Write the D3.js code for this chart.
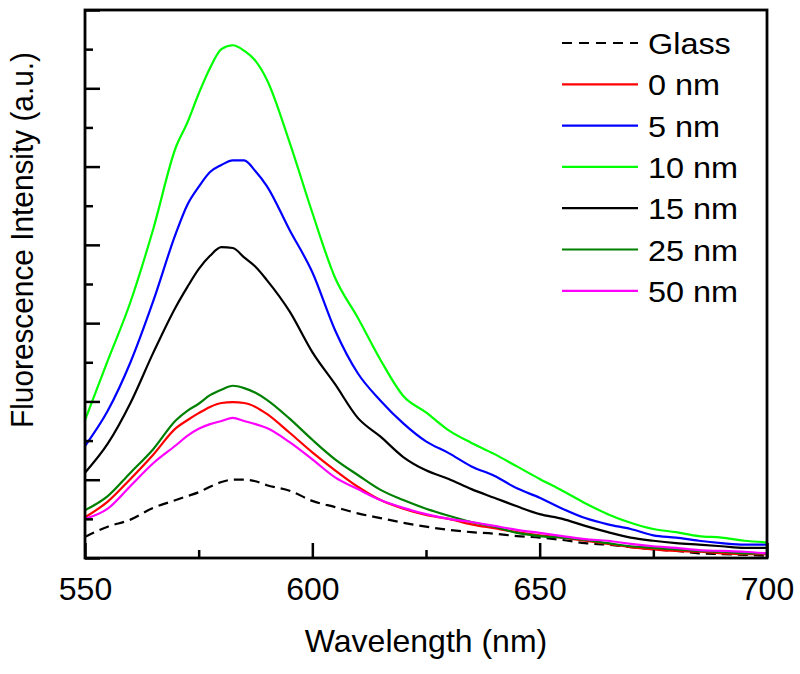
<!DOCTYPE html>
<html>
<head>
<meta charset="utf-8">
<script src="https://cdn.jsdelivr.net/npm/d3@7/dist/d3.min.js"></script>
<style>
  html, body { margin: 0; padding: 0; background: #fff; }
  svg { display: block; }
  text { font-family: "Liberation Sans", Arial, Helvetica, sans-serif; fill: #000; }
</style>
</head>
<body>
<svg id="chart" width="800" height="674"></svg>
<script>
// ---- data ----
const wavelengths = [550, 555, 560, 565, 570, 572.5, 575, 577.5, 580, 582.5, 585, 587.5, 590, 595, 600, 605, 610, 615, 620, 625, 630, 635, 640, 645, 650, 655, 660, 665, 670, 675, 680, 685, 690, 695, 700];

const glass = [0.27, 0.40, 0.49, 0.64, 0.74, 0.79, 0.84, 0.91, 0.97, 1.00, 1.00, 0.98, 0.93, 0.86, 0.73, 0.65, 0.57, 0.51, 0.45, 0.40, 0.36, 0.33, 0.31, 0.28, 0.26, 0.23, 0.19, 0.17, 0.14, 0.11, 0.09, 0.06, 0.05, 0.04, 0.03];
const nm0   = [0.52, 0.72, 1.01, 1.32, 1.66, 1.76, 1.85, 1.93, 1.98, 1.99, 1.98, 1.93, 1.84, 1.60, 1.35, 1.12, 0.91, 0.74, 0.63, 0.55, 0.50, 0.43, 0.38, 0.33, 0.29, 0.26, 0.22, 0.18, 0.14, 0.11, 0.09, 0.08, 0.06, 0.05, 0.05];
const nm5   = [1.43, 1.88, 2.50, 3.28, 4.15, 4.51, 4.74, 4.93, 5.02, 5.08, 5.08, 4.94, 4.75, 4.19, 3.65, 2.91, 2.36, 2.01, 1.72, 1.49, 1.34, 1.17, 1.05, 0.89, 0.77, 0.63, 0.51, 0.43, 0.37, 0.29, 0.26, 0.22, 0.19, 0.17, 0.17];
const nm10  = [1.76, 2.52, 3.27, 4.20, 5.25, 5.56, 5.93, 6.26, 6.50, 6.55, 6.48, 6.35, 6.11, 5.31, 4.41, 3.58, 3.07, 2.53, 2.07, 1.86, 1.63, 1.47, 1.33, 1.17, 1.01, 0.86, 0.70, 0.56, 0.45, 0.37, 0.33, 0.28, 0.26, 0.22, 0.20];
const nm15  = [1.09, 1.46, 1.98, 2.62, 3.21, 3.46, 3.69, 3.86, 3.97, 3.96, 3.84, 3.72, 3.55, 3.15, 2.63, 2.22, 1.79, 1.55, 1.29, 1.12, 1.01, 0.88, 0.77, 0.66, 0.56, 0.50, 0.41, 0.33, 0.26, 0.22, 0.19, 0.17, 0.15, 0.13, 0.13];
const nm25  = [0.61, 0.79, 1.09, 1.39, 1.76, 1.88, 1.97, 2.08, 2.15, 2.20, 2.17, 2.11, 2.02, 1.78, 1.51, 1.26, 1.06, 0.87, 0.74, 0.63, 0.54, 0.46, 0.40, 0.32, 0.28, 0.26, 0.23, 0.19, 0.15, 0.13, 0.11, 0.09, 0.08, 0.06, 0.06];
const nm50  = [0.50, 0.63, 0.92, 1.21, 1.44, 1.56, 1.65, 1.71, 1.75, 1.79, 1.75, 1.71, 1.66, 1.48, 1.26, 1.03, 0.88, 0.74, 0.64, 0.56, 0.50, 0.46, 0.41, 0.36, 0.32, 0.28, 0.24, 0.22, 0.18, 0.15, 0.13, 0.10, 0.09, 0.08, 0.06];

const seriesNames  = ["Glass", "0 nm", "5 nm", "10 nm", "15 nm", "25 nm", "50 nm"];
const seriesValues = [glass, nm0, nm5, nm10, nm15, nm25, nm50];
const seriesColors = ["#000000", "#ff0000", "#0000ff", "#00ff00", "#000000", "#008000", "#ff00ff"];
const seriesDashed = [true, false, false, false, false, false, false];

const xMajorTicks = [550, 600, 650, 700];
const xMinorTicks = [575, 625, 675];
const yMajorTicks = [0, 1, 2, 3, 4, 5, 6, 7];
const yMinorTicks = [0.5, 1.5, 2.5, 3.5, 4.5, 5.5, 6.5];

const xTitle = "Wavelength (nm)";
const yTitle = "Fluorescence Intensity (a.u.)";

// ---- layout ----
const svg = d3.select("#chart");
const pLeft = 85, pRight = 767, pTop = 10, pBottom = 558;

const x = d3.scaleLinear().domain([550, 700]).range([pLeft, pRight]);
const y = d3.scaleLinear().domain([0, 7]).range([pBottom, pTop]);

// curves
const line = d3.line()
  .x((d, i) => x(wavelengths[i]))
  .y(d => y(d))
  .curve(d3.curveMonotoneX);

const gLines = svg.append("g");
seriesValues.forEach((vals, k) => {
  gLines.append("path")
    .datum(vals)
    .attr("d", line)
    .attr("fill", "none")
    .attr("stroke", seriesColors[k])
    .attr("stroke-width", 2.2)
    .attr("stroke-linejoin", "round")
    .attr("stroke-dasharray", seriesDashed[k] ? "10,6" : null);
});

// axes (ticks inward)
const xAxis = svg.append("g").attr("transform", `translate(0,${pBottom})`)
  .call(d3.axisBottom(x).tickValues(xMajorTicks).tickSizeInner(-15).tickSizeOuter(0).tickPadding(19).tickFormat(d3.format("d")));
const xAxisMinor = svg.append("g").attr("transform", `translate(0,${pBottom})`)
  .call(d3.axisBottom(x).tickValues(xMinorTicks).tickSizeInner(-8).tickSizeOuter(0).tickFormat(""));
const yAxis = svg.append("g").attr("transform", `translate(${pLeft},0)`)
  .call(d3.axisLeft(y).tickValues(yMajorTicks).tickSizeInner(-15).tickSizeOuter(0).tickFormat(""));
const yAxisMinor = svg.append("g").attr("transform", `translate(${pLeft},0)`)
  .call(d3.axisLeft(y).tickValues(yMinorTicks).tickSizeInner(-8).tickSizeOuter(0).tickFormat(""));

[xAxis, xAxisMinor, yAxis, yAxisMinor].forEach(g => {
  g.select(".domain").remove();
  g.selectAll(".tick line").attr("stroke", "#000").attr("stroke-width", 2.5);
});
xAxis.selectAll(".tick text")
  .style("font-family", "'Liberation Sans', Arial, sans-serif")
  .style("font-size", "32px").attr("fill", "#000");

// frame
svg.append("rect")
  .attr("x", pLeft).attr("y", pTop)
  .attr("width", pRight - pLeft).attr("height", pBottom - pTop)
  .attr("fill", "none").attr("stroke", "#000").attr("stroke-width", 2.8);

// titles
svg.append("text")
  .attr("x", (pLeft + pRight) / 2).attr("y", 652)
  .attr("text-anchor", "middle")
  .style("font-size", "32px")
  .text(xTitle);

svg.append("text")
  .attr("transform", `translate(33,240) rotate(-90)`)
  .attr("text-anchor", "middle")
  .attr("textLength", 376)
  .attr("lengthAdjust", "spacingAndGlyphs")
  .style("font-size", "31px")
  .text(yTitle);

// legend
const legend = svg.append("g");
seriesNames.forEach((name, k) => {
  const ly = 43 + k * 41.3;
  legend.append("line")
    .attr("x1", 562).attr("x2", 638)
    .attr("y1", ly).attr("y2", ly)
    .attr("stroke", seriesColors[k])
    .attr("stroke-width", 2.2)
    .attr("stroke-dasharray", seriesDashed[k] ? "10,7" : null);
  legend.append("text")
    .attr("transform", `translate(648,${ly + 11}) scale(1.08,1)`)
    .style("font-size", "30px")
    .text(name);
});
</script>
</body>
</html>
